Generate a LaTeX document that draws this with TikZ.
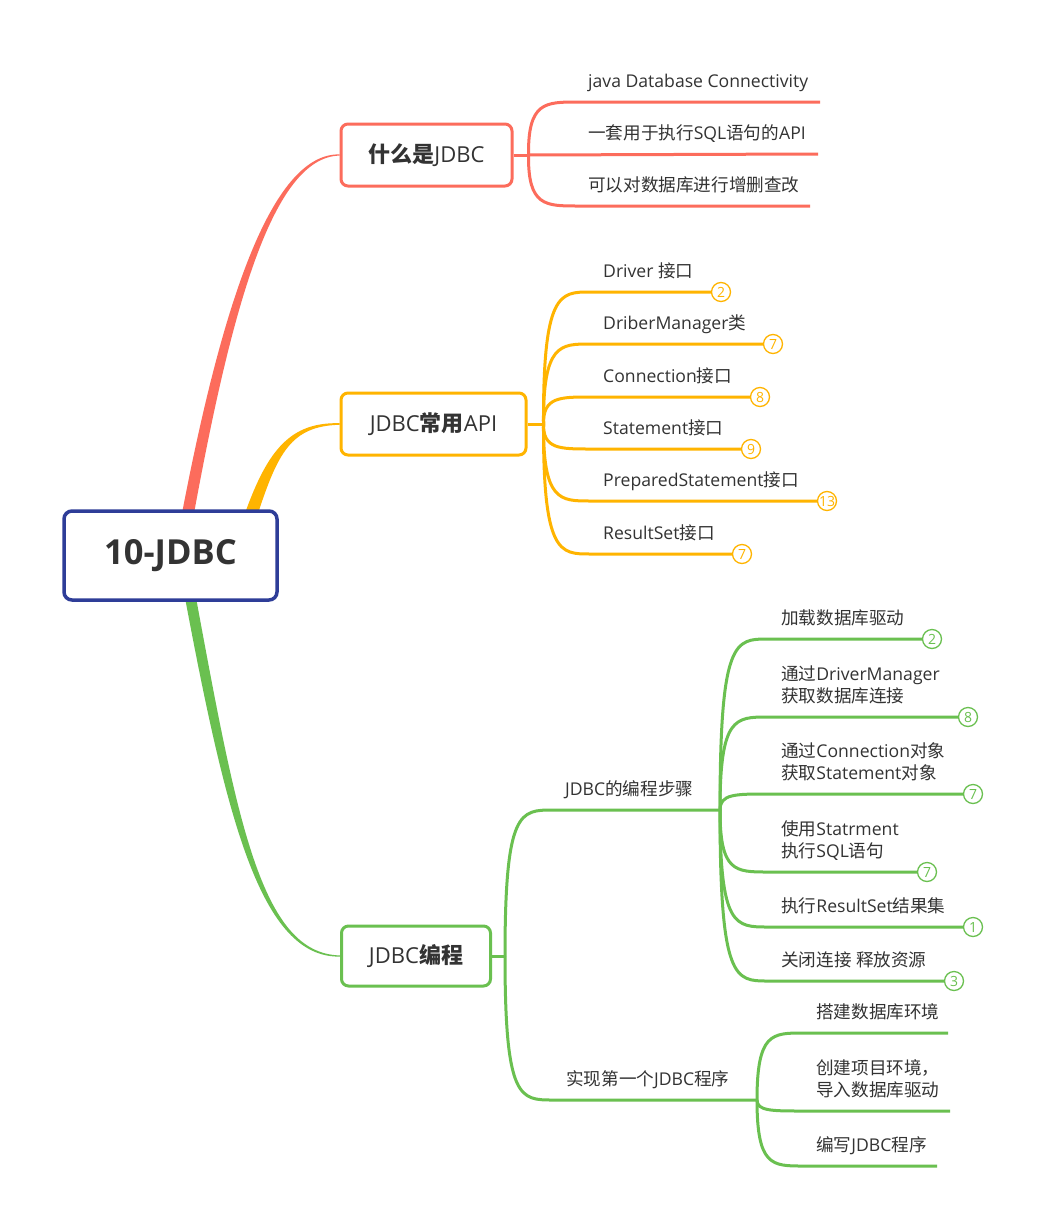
\documentclass[tikz,border=0pt]{standalone}
\usepackage{fontspec}
\setmainfont{Open Sans}
\newfontfamily\cjkf{Noto Sans CJK SC}
\newfontfamily\latf{Open Sans}
\XeTeXinterchartokenstate=1
\newXeTeXintercharclass\cjkclass
\makeatletter
\count@="4E00
\loop\ifnum\count@<"A000 \XeTeXcharclass\count@=\cjkclass \advance\count@\@ne\repeat
\makeatother
\XeTeXcharclass"FF0C=\cjkclass
\XeTeXinterchartoks 0 \cjkclass={\cjkf}
\XeTeXinterchartoks 4095 \cjkclass={\cjkf}
\XeTeXinterchartoks \cjkclass 0={\latf}
\XeTeXinterchartoks \cjkclass 4095={\latf}
\definecolor{cred}{RGB}{252,108,92}
\definecolor{corg}{RGB}{255,180,0}
\definecolor{cgrn}{RGB}{106,192,80}
\definecolor{cblu}{RGB}{46,61,152}
\definecolor{ctxt}{RGB}{51,51,51}
\pgfdeclarelayer{bg}
\pgfsetlayers{bg,main}
\begin{document}
\begin{tikzpicture}[x=1pt,y=-1pt,
  topic/.style={draw=#1, line width=3pt, rounded corners=7pt, fill=white, text=ctxt, inner sep=0pt, font=\fontsize{22}{26}\selectfont},
  lbl/.style={anchor=base west, inner sep=0pt, text=ctxt, font=\fontsize{17.6}{22}\selectfont, align=left},
  badge/.style={circle, draw=#1, line width=1.3pt, fill=white, minimum size=19pt, inner sep=0pt, text=#1, font=\fontsize{14}{15}\selectfont},
  rl/.style={draw=cred, line width=3pt},
  ol/.style={draw=corg, line width=3pt},
  gl/.style={draw=cgrn, line width=3pt},
]
\useasboundingbox (0,0) rectangle (1046,1231);

% topic boxes
\node[topic=cblu, line width=3.5pt, rounded corners=8pt, minimum width=213pt, minimum height=89pt, font=\fontsize{34.5}{40}\selectfont\bfseries] (root) at (170.5,555.5) {10-JDBC};
\node[topic=cred, minimum width=171pt, minimum height=62pt] (b1) at (426.5,155) {{\bfseries 什么是}JDBC};
\node[topic=corg, minimum width=185pt, minimum height=62pt] (b2) at (433.5,424) {JDBC{\bfseries 常用}API};
\node[topic=cgrn, minimum width=149pt, minimum height=60pt] (b3) at (416,956) {JDBC{\bfseries 编程}};

\coordinate (rA) at ([xshift=17.5pt]root.north);
\coordinate (oA) at ([xshift=81pt]root.north);
\coordinate (gA) at ([xshift=20pt]root.south);

\begin{pgfonlayer}{bg}
\fill[white] (0,0) rectangle (1046,1231);
% tapered main branches
\fill[cred] ([xshift=-6pt,yshift=-4pt]rA) .. controls (221,310) and (270,153) .. ([yshift=0.6pt]b1.west)
  -- ([yshift=-0.6pt]b1.west) .. controls (272,157) and (231,312) .. ([xshift=6pt,yshift=-4pt]rA) -- cycle;
\fill[corg] ([xshift=-6.5pt,yshift=-4pt]oA) .. controls (268,449) and (291,422) .. ([yshift=0.8pt]b2.west)
  -- ([yshift=-0.8pt]b2.west) .. controls (291,426) and (278,453) .. ([xshift=6.5pt,yshift=-4pt]oA) -- cycle;
\fill[cgrn] ([xshift=-5.5pt,yshift=4pt]gA) .. controls (227,821) and (261,958) .. ([yshift=-0.6pt]b3.west)
  -- ([yshift=0.6pt]b3.west) .. controls (261,954) and (237,819) .. ([xshift=5.5pt,yshift=4pt]gA) -- cycle;
\end{pgfonlayer}

% ---------- red sub-topics ----------
\coordinate (fr) at ([xshift=15pt]b1.east);
\coordinate (re1) at (820,102);
\coordinate (re2) at (818,154);
\coordinate (re3) at (810,206);
\draw[rl] (b1.east) -- (fr);
\draw[rl] (fr) .. controls (528,102) and (545,102) .. (578,102) -- (re1);
\draw[rl] (fr) -- (re2);
\draw[rl] (fr) .. controls (528,206) and (545,206) .. (578,206) -- (re3);
\node[lbl] (r1) at (588,87) {java Database Connectivity};
\node[lbl] (r2) at (588,139) {一套用于执行SQL语句的API};
\node[lbl] (r3) at (588,191) {可以对数据库进行增删查改};

% ---------- orange sub-topics ----------
\coordinate (fo) at ([xshift=16pt]b2.east);
\draw[ol] (b2.east) -- (fo);
\node[badge=corg] (o1) at (721,292) {2};
\node[badge=corg] (o2) at (773,344) {7};
\node[badge=corg] (o3) at (760,397) {8};
\node[badge=corg] (o4) at (751,449) {9};
\node[badge=corg] (o5) at (827,501) {13};
\node[badge=corg] (o6) at (742,554) {7};
\begin{pgfonlayer}{bg}
\draw[ol] (fo) .. controls (543,292) and (560,292) .. (590,292) -- (o1.west);
\draw[ol] (fo) .. controls (543,344) and (560,344) .. (590,344) -- (o2.west);
\draw[ol] (fo) .. controls (543,397) and (560,397) .. (590,397) -- (o3.west);
\draw[ol] (fo) .. controls (543,449) and (560,449) .. (590,449) -- (o4.west);
\draw[ol] (fo) .. controls (543,501) and (560,501) .. (590,501) -- (o5.west);
\draw[ol] (fo) .. controls (543,554) and (560,554) .. (590,554) -- (o6.west);
\end{pgfonlayer}
\node[lbl] (t1) at (603,277) {Driver 接口};
\node[lbl] (t2) at (603,329) {DriberManager类};
\node[lbl] (t3) at (603,382) {Connection接口};
\node[lbl] (t4) at (603,434) {Statement接口};
\node[lbl] (t5) at (603,486) {PreparedStatement接口};
\node[lbl] (t6) at (603,539) {ResultSet接口};

% ---------- green sub-topics ----------
\coordinate (fg) at ([xshift=13pt]b3.east);
\coordinate (fg1) at (720,810);
\coordinate (fg2) at (757,1100);
\draw[gl] (b3.east) -- (fg);
\draw[gl] (fg) .. controls (505,810) and (520,810) .. (553,810) -- (fg1);
\draw[gl] (fg) .. controls (505,1100) and (520,1100) .. (553,1100) -- (fg2);
\node[lbl] (s1) at (565,795) {JDBC的编程步骤};
\node[lbl] (s2) at (566,1085) {实现第一个JDBC程序};

\node[badge=cgrn] (g1) at (932,639) {2};
\node[badge=cgrn] (g2) at (968,717) {8};
\node[badge=cgrn] (g3) at (973,794) {7};
\node[badge=cgrn] (g4) at (927,872) {7};
\node[badge=cgrn] (g5) at (973,927) {1};
\node[badge=cgrn] (g6) at (954,981) {3};
\begin{pgfonlayer}{bg}
\draw[gl] (fg1) .. controls (720,639) and (735,639) .. (768,639) -- (g1.west);
\draw[gl] (fg1) .. controls (720,717) and (735,717) .. (768,717) -- (g2.west);
\draw[gl] (fg1) .. controls (720,794) and (735,794) .. (768,794) -- (g3.west);
\draw[gl] (fg1) .. controls (720,872) and (735,872) .. (768,872) -- (g4.west);
\draw[gl] (fg1) .. controls (720,927) and (735,927) .. (768,927) -- (g5.west);
\draw[gl] (fg1) .. controls (720,981) and (735,981) .. (768,981) -- (g6.west);
\end{pgfonlayer}
\node[lbl] (u1) at (781,624) {加载数据库驱动};
\node[lbl] (u2) at (781,702) {通过DriverManager\\获取数据库连接};
\node[lbl] (u3) at (781,779) {通过Connection对象\\获取Statement对象};
\node[lbl] (u4) at (781,857) {使用Statrment\\执行SQL语句};
\node[lbl] (u5) at (781,912) {执行ResultSet结果集};
\node[lbl] (u6) at (781,966) {关闭连接 释放资源};

\coordinate (ve1) at (948,1033);
\coordinate (ve2) at (950,1111);
\coordinate (ve3) at (937,1166);
\draw[gl] (fg2) .. controls (757,1033) and (772,1033) .. (803,1033) -- (ve1);
\draw[gl] (fg2) .. controls (757,1111) and (772,1111) .. (803,1111) -- (ve2);
\draw[gl] (fg2) .. controls (757,1166) and (772,1166) .. (803,1166) -- (ve3);
\node[lbl] (v1) at (816,1018) {搭建数据库环境};
\node[lbl] (v2) at (816,1096) {创建项目环境，\\导入数据库驱动};
\node[lbl] (v3) at (816,1151) {编写JDBC程序};
\end{tikzpicture}
\end{document}
